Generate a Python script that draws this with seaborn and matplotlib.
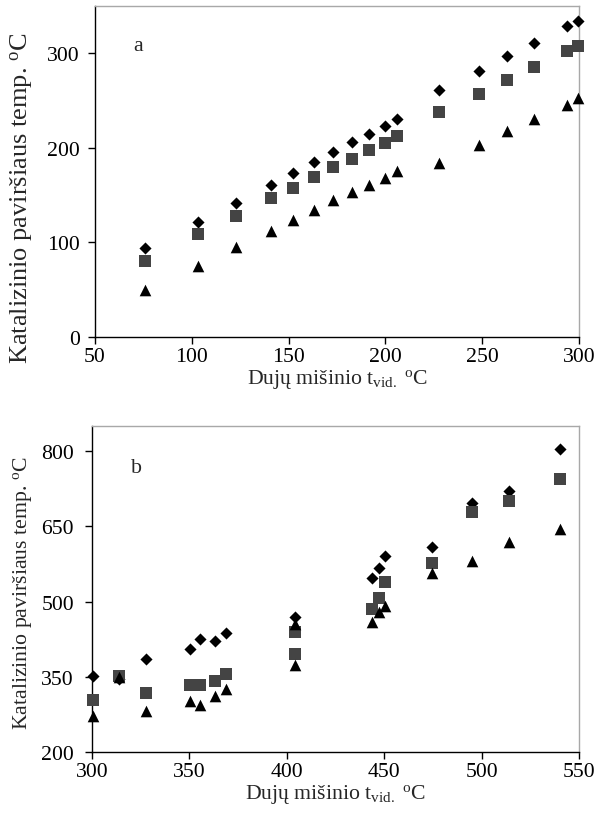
import pandas as pd
import seaborn as sns
import matplotlib
matplotlib.use("Agg")
import matplotlib.pyplot as plt

# panel a
a_x = [76, 103.4, 122.7, 140.7, 152.3, 163, 173, 183, 191.6, 199.8, 206, 227.8, 248.5, 263, 277, 294, 299.6]
a_diamond = [94, 122, 142, 161, 173, 185, 196, 206, 215, 223, 230, 261, 281, 297, 311, 328.6, 334]
a_square = [80.7, 108.6, 128, 146.7, 158, 169, 179.6, 188.7, 198, 205, 212, 238, 257, 272, 285, 302.6, 308]
a_triangle = [50, 75.5, 95, 112.5, 123.8, 134, 144.7, 153, 161, 168, 175, 184, 203.5, 217.7, 230, 245.5, 252.6]

# panel b
b_x = [300.7, 314, 327.9, 350.3, 355.4, 363, 368.8, 404.2, 404.2, 443.6, 447.2, 450.4, 474.7, 495, 514, 540.2]
b_diamond = [350.8, 346, 385, 405, 425, 420.5, 437, 469.5, None, 546, 566, 590.5, 608, 696, 720.5, 805]
b_square = [304, 352, 317, 334, 334, 342, 355, 438.4, 395, 485, 507, 538, 577.5, 678.7, 700, 743.9]
b_triangle = [271, 350, 282, 302, 293.6, 312, 325.5, 455, 374, 460, 480, 491, 556, 581, 619, 644]

sns.set_style("ticks")
plt.rcParams['font.family'] = ['Liberation Serif', 'DejaVu Serif']
plt.rcParams['mathtext.fontset'] = 'custom'
plt.rcParams['mathtext.rm'] = 'Liberation Serif'
plt.rcParams['mathtext.it'] = 'Liberation Serif:italic'

fs = 15.7
xlabel = r'Dujų mišinio t$_{\mathrm{vid.}}$ $^{\mathrm{o}}$C'
ylabel = r'Katalizinio paviršiaus temp. $^{\mathrm{o}}$C'

fig = plt.figure(figsize=(5.99, 8.29), dpi=100)
ax_a = fig.add_axes([0.1586, 0.5923, 0.808, 0.3993])
ax_b = fig.add_axes([0.1536, 0.0917, 0.813, 0.3932])


def draw(ax, x, d, s, t, ylab_size, ypad):
    df = pd.DataFrame({'x': x, 'd': d, 's': s, 't': t})
    sns.scatterplot(data=df, x='x', y='d', ax=ax, marker='D', color='black', s=38, linewidth=0, clip_on=False, zorder=3)
    sns.scatterplot(data=df, x='x', y='s', ax=ax, marker='s', color='#444444', s=70, linewidth=0, clip_on=False, zorder=3)
    sns.scatterplot(data=df, x='x', y='t', ax=ax, marker='^', color='black', s=70, linewidth=0, clip_on=False, zorder=3)
    for side in ['top', 'right']:
        ax.spines[side].set_visible(True)
        ax.spines[side].set_color('#a8a8a8')
        ax.spines[side].set_linewidth(1.0)
    for side in ['left', 'bottom']:
        ax.spines[side].set_color('black')
        ax.spines[side].set_linewidth(1.0)
    ax.tick_params(axis='both', direction='out', length=5, width=1, labelsize=fs, colors='black')
    ax.tick_params(axis='x', pad=2)
    ax.tick_params(axis='y', pad=ypad)
    ax.set_xlabel(xlabel, fontsize=fs, labelpad=1)
    ax.set_ylabel(ylabel, fontsize=ylab_size)


draw(ax_a, a_x, a_diamond, a_square, a_triangle, 19, 6)
ax_a.set_xlim(50, 300)
ax_a.set_ylim(0, 350)
ax_a.set_xticks([50, 100, 150, 200, 250, 300])
ax_a.set_yticks([0, 100, 200, 300])
ax_a.yaxis.set_label_coords(-0.124, 0.423)
ax_a.text(0.088, 0.882, 'a', transform=ax_a.transAxes, fontsize=fs, ha='center', va='center')

draw(ax_b, b_x, b_diamond, b_square, b_triangle, fs, 8)
ax_b.set_xlim(300, 550)
ax_b.set_ylim(200, 850)
ax_b.set_xticks([300, 350, 400, 450, 500, 550])
ax_b.set_yticks([200, 350, 500, 650, 800])
ax_b.yaxis.set_label_coords(-0.119, 0.491)
ax_b.text(0.092, 0.874, 'b', transform=ax_b.transAxes, fontsize=fs, ha='center', va='center')

fig.savefig('out.png', dpi=100)
